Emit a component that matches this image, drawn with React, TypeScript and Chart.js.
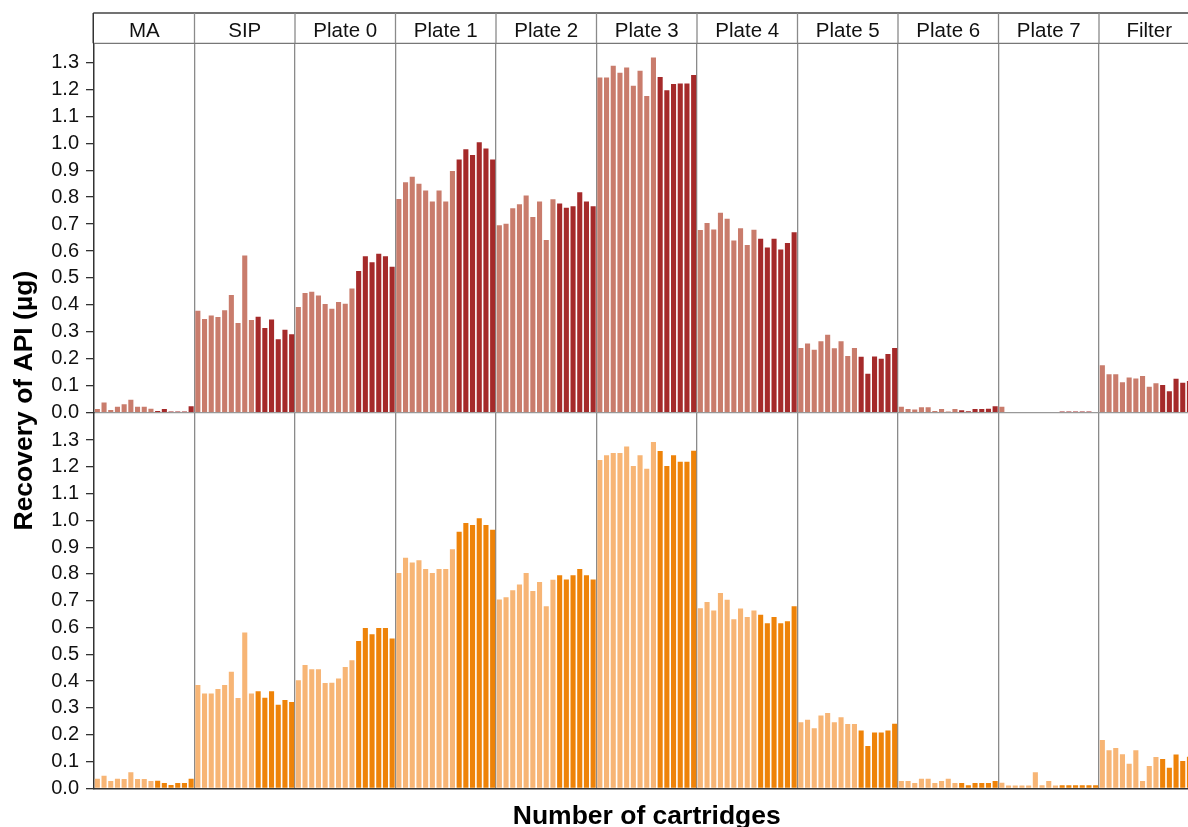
import React, { useEffect, useRef } from "react";
import { Chart, registerables } from "chart.js";

Chart.register(...registerables);

// ---------- data ----------
const panels = ["MA", "SIP", "Plate 0", "Plate 1", "Plate 2", "Plate 3", "Plate 4", "Plate 5", "Plate 6", "Plate 7", "Filter"];
const cartridges = ["1", "2", "3", "4", "5", "6", "7", "8", "9", "10", "11", "12", "13", "14", "15"];
const lightCount = 9; // first 9 cartridges pale, last 6 dark
const yTicks = [0, 0.1, 0.2, 0.3, 0.4, 0.5, 0.6, 0.7, 0.8, 0.9, 1.0, 1.1, 1.2, 1.3];

// upper row
const topMA = [0.014, 0.038, 0.010, 0.022, 0.031, 0.048, 0.022, 0.022, 0.015, 0.006, 0.014, 0.004, 0.004, 0.004, 0.024];
const topSIP = [0.378, 0.348, 0.361, 0.355, 0.380, 0.437, 0.333, 0.583, 0.344, 0.356, 0.314, 0.346, 0.273, 0.308, 0.291];
const topP0 = [0.392, 0.444, 0.449, 0.435, 0.403, 0.386, 0.411, 0.404, 0.461, 0.526, 0.581, 0.558, 0.590, 0.581, 0.542];
const topP1 = [0.793, 0.855, 0.876, 0.850, 0.825, 0.784, 0.825, 0.784, 0.897, 0.940, 0.978, 0.956, 1.004, 0.981, 0.940];
const topP2 = [0.696, 0.701, 0.759, 0.774, 0.806, 0.726, 0.784, 0.641, 0.792, 0.776, 0.761, 0.766, 0.818, 0.784, 0.766];
const topP3 = [1.244, 1.244, 1.288, 1.262, 1.281, 1.213, 1.269, 1.175, 1.318, 1.246, 1.197, 1.220, 1.222, 1.222, 1.253];
const topP4 = [0.678, 0.704, 0.680, 0.742, 0.720, 0.639, 0.685, 0.622, 0.679, 0.646, 0.613, 0.646, 0.606, 0.630, 0.670];
const topP5 = [0.240, 0.257, 0.234, 0.265, 0.289, 0.239, 0.265, 0.210, 0.240, 0.208, 0.145, 0.209, 0.200, 0.218, 0.240];
const topP6 = [0.022, 0.014, 0.012, 0.020, 0.020, 0.006, 0.014, 0.004, 0.014, 0.009, 0.005, 0.014, 0.014, 0.015, 0.024];
const topP7 = [0.022, 0, 0, 0, 0, 0, 0, 0.003, 0.003, 0.004, 0.004, 0.004, 0.004, 0.004, 0.003];
const topFilter = [0.176, 0.143, 0.143, 0.113, 0.131, 0.127, 0.136, 0.096, 0.109, 0.103, 0.080, 0.126, 0.111, 0.118, 0.115];

// lower row
const botMA = [0.036, 0.047, 0.027, 0.036, 0.035, 0.060, 0.035, 0.035, 0.027, 0.028, 0.020, 0.012, 0.020, 0.020, 0.036];
const botSIP = [0.386, 0.354, 0.354, 0.371, 0.386, 0.435, 0.337, 0.582, 0.354, 0.362, 0.338, 0.362, 0.312, 0.330, 0.322];
const botP0 = [0.403, 0.460, 0.444, 0.444, 0.393, 0.394, 0.410, 0.453, 0.478, 0.550, 0.598, 0.575, 0.598, 0.598, 0.559];
const botP1 = [0.804, 0.861, 0.843, 0.851, 0.819, 0.804, 0.819, 0.819, 0.892, 0.958, 0.990, 0.983, 1.008, 0.983, 0.965];
const botP2 = [0.705, 0.713, 0.739, 0.761, 0.804, 0.736, 0.770, 0.680, 0.778, 0.795, 0.779, 0.795, 0.819, 0.795, 0.779];
const botP3 = [1.225, 1.243, 1.252, 1.252, 1.276, 1.203, 1.243, 1.193, 1.293, 1.259, 1.203, 1.243, 1.219, 1.219, 1.260];
const botP4 = [0.672, 0.695, 0.664, 0.729, 0.704, 0.631, 0.671, 0.639, 0.664, 0.648, 0.616, 0.639, 0.616, 0.624, 0.680];
const botP5 = [0.247, 0.256, 0.224, 0.272, 0.281, 0.247, 0.265, 0.240, 0.240, 0.216, 0.158, 0.208, 0.208, 0.216, 0.241];
const botP6 = [0.027, 0.027, 0.020, 0.036, 0.036, 0.020, 0.027, 0.036, 0.020, 0.020, 0.011, 0.020, 0.020, 0.020, 0.027];
const botP7 = [0.021, 0.010, 0.010, 0.010, 0.010, 0.060, 0.011, 0.027, 0.010, 0.011, 0.011, 0.011, 0.011, 0.011, 0.011];
const botFilter = [0.180, 0.142, 0.150, 0.127, 0.092, 0.142, 0.027, 0.083, 0.117, 0.109, 0.077, 0.126, 0.102, 0.118, 0.110];

const topRow = [topMA, topSIP, topP0, topP1, topP2, topP3, topP4, topP5, topP6, topP7, topFilter];
const botRow = [botMA, botSIP, botP0, botP1, botP2, botP3, botP4, botP5, botP6, botP7, botFilter];

const FONT = "'Liberation Sans', Arial, Helvetica, sans-serif";
const PER = cartridges.length;

const labels = panels.flatMap((p) => cartridges.map((c) => `${p} ${c}`));
const split = (row: number[][], pale: boolean) =>
  row.flatMap((vals) => vals.map((v, i) => ((i < lightCount) === pale ? v : null)));

const stripPlugin = {
  id: "facetStrip",
  afterDraw(chart: any) {
    const { ctx, chartArea } = chart;
    const x = chart.scales.x;
    const half = (x.getPixelForValue(1) - x.getPixelForValue(0)) / 2;
    const stripTop = chartArea.top - 30.3;
    ctx.save();
    ctx.lineWidth = 1.5;
    ctx.strokeStyle = "#444";
    ctx.beginPath();
    ctx.moveTo(chartArea.left - 0.75, stripTop);
    ctx.lineTo(chartArea.right + 2, stripTop);
    ctx.stroke();
    ctx.lineWidth = 1.3;
    ctx.strokeStyle = "#777";
    ctx.beginPath();
    ctx.moveTo(chartArea.left, chartArea.top);
    ctx.lineTo(chartArea.right + 2, chartArea.top);
    ctx.stroke();
    ctx.lineWidth = 1.5;
    ctx.strokeStyle = "#333";
    ctx.beginPath();
    ctx.moveTo(chartArea.left - 0.75, stripTop);
    ctx.lineTo(chartArea.left - 0.75, chartArea.top);
    ctx.stroke();
    ctx.fillStyle = "#111";
    ctx.font = `20.5px ${FONT}`;
    ctx.textAlign = "center";
    ctx.textBaseline = "alphabetic";
    panels.forEach((p, k) => {
      const xl = x.getPixelForValue(k * PER) - half;
      const xr = x.getPixelForValue(k * PER + PER - 1) + half;
      if (k > 0) {
        ctx.lineWidth = 1.3;
        ctx.strokeStyle = "#8a8a8a";
        ctx.beginPath();
        ctx.moveTo(xl, stripTop);
        ctx.lineTo(xl, chartArea.top);
        ctx.stroke();
      }
      ctx.fillText(p, (xl + xr) / 2, stripTop + 23.5);
    });
    ctx.fillStyle = "#000";
    ctx.font = `bold 26.5px ${FONT}`;
    ctx.textAlign = "center";
    ctx.fillText("Number of cartridges", (chartArea.left + chartArea.right) / 2, chartArea.bottom + 36);
    ctx.translate(32, (stripTop + chartArea.bottom) / 2);
    ctx.rotate(-Math.PI / 2);
    ctx.fillText("Recovery of API (µg)", 0, 0);
    ctx.restore();
  },
};

function yAxis(max: number, weight: number, order: number, showZeroLine: boolean) {
  return {
    type: "linear",
    position: "left",
    stack: "rows",
    stackWeight: weight,
    weight: order,
    min: 0,
    max,
    afterBuildTicks: (s: any) => {
      s.ticks = yTicks.map((v) => ({ value: v }));
    },
    afterFit: (s: any) => {
      s.width = 94;
    },
    ticks: {
      autoSkip: false,
      color: "#111",
      font: { family: FONT, size: 20 },
      padding: 7,
      callback: (v: any) => Number(v).toFixed(1),
    },
    grid: {
      color: (c: any) => (showZeroLine && c.tick && c.tick.value === 0 ? "#999" : "rgba(0,0,0,0)"),
      tickColor: "#333",
      tickLength: 8,
      lineWidth: 1.3,
    },
    border: { display: true, color: "#333", width: 1.5 },
  };
}

export default function App() {
  const ref = useRef<HTMLCanvasElement | null>(null);
  useEffect(() => {
    if (!ref.current) return;
    const chart = new Chart(ref.current, {
      type: "bar",
      data: {
        labels,
        datasets: [
          { data: split(topRow, true), backgroundColor: "#C97C6C", yAxisID: "yTop" },
          { data: split(topRow, false), backgroundColor: "#A52A2A", yAxisID: "yTop" },
          { data: split(botRow, true), backgroundColor: "#F7B575", yAxisID: "yBot" },
          { data: split(botRow, false), backgroundColor: "#EE8309", yAxisID: "yBot" },
        ],
      } as any,
      options: {
        animation: false,
        responsive: true,
        maintainAspectRatio: false,
        layout: { padding: { top: 43.3, bottom: 850 - 788.3, left: 0, right: 0.5 } },
        datasets: { bar: { grouped: false, barPercentage: 0.76, categoryPercentage: 1 } } as any,
        plugins: { legend: { display: false }, tooltip: { enabled: false } },
        scales: {
          x: {
            type: "category",
            offset: true,
            afterFit: (s: any) => {
              s.height = 0;
            },
            ticks: { display: false },
            grid: {
              offset: true,
              drawTicks: false,
              lineWidth: 1.3,
              color: (c: any) => (c.index > 0 && c.index % PER === 0 && c.index < labels.length ? "#8a8a8a" : "rgba(0,0,0,0)"),
            },
            border: { display: true, color: "#333", width: 1.5 },
          },
          yTop: yAxis(1.371, 369.4, 2, true),
          yBot: yAxis(1.402, 375.6, 1, false),
        } as any,
      },
      plugins: [stripPlugin],
    });
    return () => chart.destroy();
  }, []);
  return (
    <div style={{ position: "fixed", left: 0, top: 0, width: 1200, height: 850, background: "#fff" }}>
      <canvas ref={ref} />
    </div>
  );
}
